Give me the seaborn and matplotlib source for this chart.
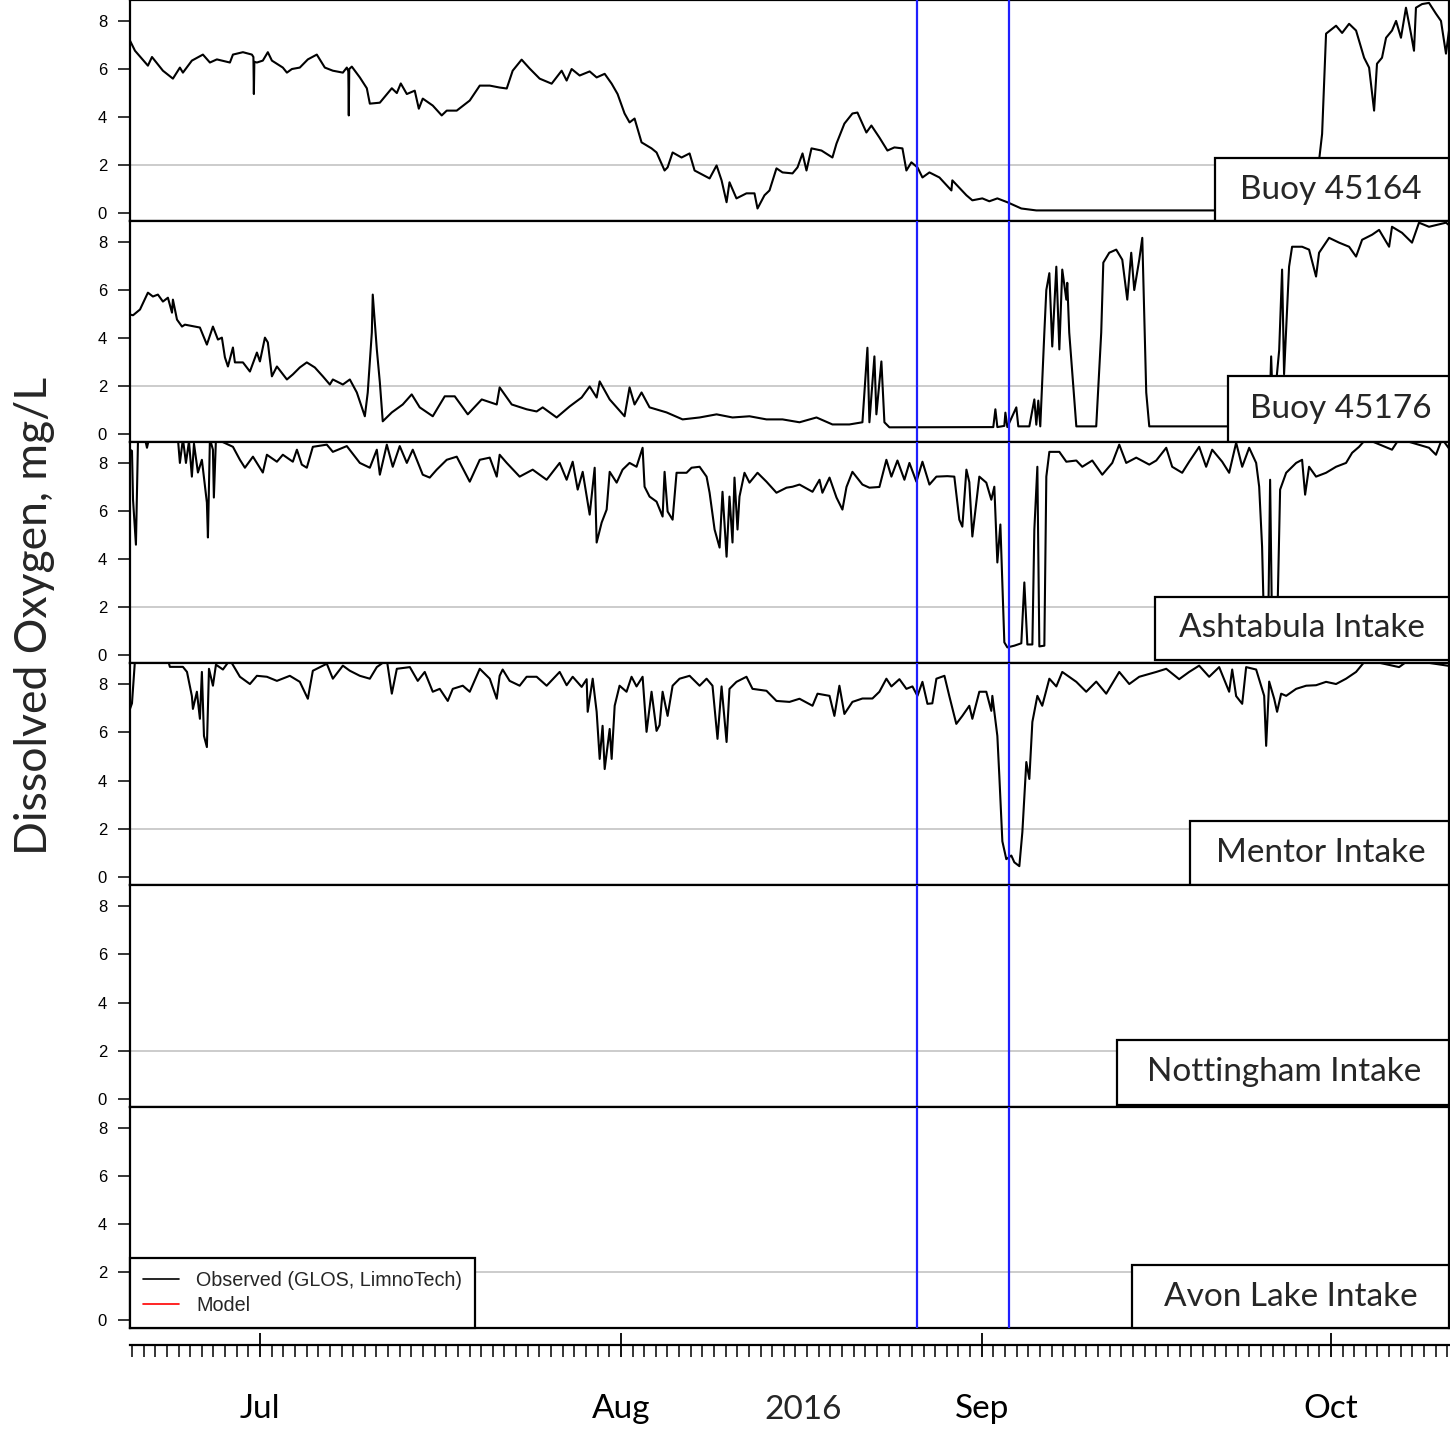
import numpy as np
import pandas as pd
import matplotlib
matplotlib.use("Agg")
import matplotlib.pyplot as plt
import matplotlib.dates as mdates
from matplotlib.lines import Line2D
from matplotlib.patches import Rectangle
import seaborn as sns

# ---------------- data (days since 2016-06-20, dissolved oxygen mg/L) ----------------
START = pd.Timestamp("2016-06-20")
x_range_days = [-0.17, 113.23]
event_days = [67.53, 75.43]          # blue vertical markers
year_label = "2016"
month_labels = ["Jul", "Aug", "Sep", "Oct"]
panel_names = ["Buoy 45164", "Buoy 45176", "Ashtabula Intake", "Mentor Intake",
               "Nottingham Intake", "Avon Lake Intake"]
legend_labels = ["Observed (GLOS, LimnoTech)", "Model"]
y_ticks = [0, 2, 4, 6, 8]

b45164_day = [-0.17, 0.26, 1.37, 1.72, 2.66, 3.52, 4.12, 4.38, 5.15, 6.10, 6.70, 7.30, 8.42, 8.68,
              9.54, 10.31, 10.44, 10.48, 10.52, 10.74, 11.25, 11.68, 12.03, 12.97, 13.32, 13.75,
              14.43, 15.12, 15.89, 16.58, 17.27, 18.13, 18.47, 18.60, 18.64, 18.68, 18.90, 19.59,
              20.19, 20.45, 21.31, 22.34, 22.77, 23.11, 23.63, 24.31, 24.66, 25.00, 25.86, 26.63,
              27.06, 27.92, 29.04, 29.90, 30.76, 31.61, 32.22, 32.73, 33.50, 34.19, 35.05, 36.08,
              36.94, 37.37, 37.80, 38.49, 39.35, 39.95, 40.64, 41.24, 41.75, 42.35, 42.78, 43.21,
              43.81, 44.67, 45.10, 45.79, 46.05, 46.48, 47.25, 47.94, 48.37, 49.66, 50.26, 50.69,
              51.12, 51.37, 51.97, 52.83, 53.52, 53.78, 54.38, 54.81, 55.41, 55.93, 56.79, 57.22,
              57.65, 57.99, 58.42, 59.28, 60.22, 60.57, 61.25, 61.94, 62.37, 63.14, 63.57, 64.26,
              64.95, 65.55, 66.24, 66.58, 67.01, 67.53, 67.96, 68.56, 69.42, 70.45, 70.53, 71.74,
              72.25, 73.11, 73.71, 74.40, 75.26, 76.46, 77.75, 101.89, 102.06, 102.32, 102.66,
              103.52, 104.04, 104.64, 105.24, 105.93, 106.36, 106.79, 107.04, 107.47, 107.82,
              108.33, 108.68, 109.10, 109.53, 109.96, 110.22, 110.39, 110.91, 111.51, 112.11,
              112.54, 112.97, 113.23]
b45164_do = [7.18, 6.76, 6.14, 6.5, 5.93, 5.6, 6.06, 5.85, 6.35, 6.6, 6.27, 6.4, 6.27, 6.6,
             6.7, 6.6, 6.5, 4.96, 6.3, 6.27, 6.35, 6.7, 6.35, 6.06, 5.85, 6.0,
             6.06, 6.4, 6.6, 6.06, 5.93, 5.85, 6.06, 5.9, 4.07, 6.0, 6.1, 5.65,
             5.2, 4.56, 4.6, 5.2, 5.0, 5.4, 4.96, 5.1, 4.35, 4.77, 4.48, 4.07,
             4.27, 4.27, 4.69, 5.31, 5.31, 5.23, 5.19, 5.93, 6.39, 6.02, 5.6, 5.39,
             5.93, 5.52, 6.0, 5.73, 5.9, 5.65, 5.8, 5.39, 4.96, 4.15, 3.78, 3.94,
             2.95, 2.7, 2.53, 1.78, 1.91, 2.53, 2.32, 2.49, 1.78, 1.45, 1.99, 1.37,
             0.46, 1.29, 0.62, 0.83, 0.83, 0.2, 0.75, 0.95, 1.87, 1.7, 1.66, 1.91,
             2.49, 1.78, 2.7, 2.61, 2.32, 2.9, 3.73, 4.15, 4.19, 3.36, 3.65, 3.15,
             2.61, 2.74, 2.7, 1.78, 2.12, 1.91, 1.49, 1.7, 1.49, 0.95, 1.37, 0.75,
             0.54, 0.62, 0.5, 0.62, 0.46, 0.2, 0.12, 0.12, 2.2, 3.3, 7.47,
             7.8, 7.5, 7.88, 7.6, 6.47, 6.06, 4.27, 6.22, 6.47, 7.3,
             7.6, 8.0, 7.3, 8.55, 7.47, 6.76, 8.55, 8.7, 8.75, 8.3,
             8.0, 6.64, 7.6]

b45176_day = [-0.17, 0.09, 0.69, 1.37, 1.80, 2.23, 2.66, 3.09, 3.44, 3.52, 3.87, 4.30, 4.55, 5.84,
              6.44, 6.96, 7.39, 7.73, 7.99, 8.25, 8.68, 8.85, 9.54, 10.14, 10.74, 11.00, 11.43,
              11.68, 12.03, 12.46, 13.32, 13.83, 14.43, 15.03, 15.72, 16.41, 17.01, 17.27, 18.13,
              18.73, 19.33, 20.02, 20.27, 20.62, 20.70, 21.05, 21.31, 21.56, 22.34, 23.28, 24.05,
              24.74, 25.86, 26.89, 27.75, 28.87, 30.07, 31.36, 31.61, 32.65, 33.93, 34.79, 35.31,
              36.51, 37.63, 38.66, 39.35, 39.95, 40.21, 41.07, 42.35, 42.78, 43.21, 43.81, 44.50,
              45.96, 47.34, 48.80, 50.26, 51.63, 53.09, 54.55, 55.93, 57.39, 58.85, 60.22, 61.68,
              62.80, 63.23, 63.40, 63.83, 64.00, 64.43, 64.69, 65.12, 74.05, 74.23, 74.40, 75.00,
              75.09, 75.26, 76.03, 76.20, 77.15, 77.58, 77.75, 77.92, 78.09, 78.44, 78.61, 78.87,
              79.12, 79.47, 79.73, 79.98, 80.33, 80.41, 80.58, 81.19, 82.90, 83.33, 83.51, 84.02,
              84.62, 85.14, 85.57, 85.91, 86.17, 86.60, 86.86, 87.20, 87.46, 97.34, 97.77, 97.94,
              98.11, 98.63, 98.88, 99.05, 99.48, 99.74, 100.60, 101.20, 101.80, 102.06, 102.92,
              103.78, 104.64, 105.24, 105.76, 106.62, 107.22, 108.08, 108.33, 109.19, 110.05,
              110.65, 111.51, 112.97, 113.23]
b45176_do = [4.98, 4.95, 5.19, 5.89, 5.73, 5.81, 5.52, 5.68, 5.06, 5.6, 4.77, 4.48, 4.56, 4.44,
             3.73, 4.48, 3.94, 4.02, 3.2, 2.82, 3.61, 2.99, 2.99, 2.61, 3.4, 3.03, 4.02,
             3.82, 2.41, 2.82, 2.28, 2.49, 2.78, 2.99, 2.78, 2.41, 2.07, 2.28, 2.07,
             2.28, 1.74, 0.75, 1.74, 4.23, 5.81, 3.53, 2.16, 0.54, 0.91, 1.24, 1.66,
             1.12, 0.75, 1.58, 1.58, 0.83, 1.45, 1.24, 1.95, 1.24, 1.04, 0.95, 1.12,
             0.7, 1.16, 1.53, 1.99, 1.53, 2.2, 1.45, 0.75, 1.95, 1.24, 1.74, 1.12,
             0.91, 0.62, 0.7, 0.83, 0.7, 0.75, 0.62, 0.62, 0.5, 0.7, 0.41, 0.41,
             0.5, 3.6, 0.5, 3.24, 0.83, 3.03, 0.5, 0.29, 0.3, 1.04, 0.3, 0.35,
             0.9, 0.3, 1.12, 0.33, 0.33, 1.45, 0.4, 1.4, 0.33, 4.23, 6.0, 6.7,
             3.65, 6.97, 3.53, 6.85, 5.6, 6.3, 4.23, 0.33, 0.33, 4.23, 7.14, 7.55,
             7.68, 7.26, 5.6, 7.55, 6.0, 7.26, 8.17, 1.74, 0.33, 0.33, 0.5, 3.24,
             0.8, 3.5, 6.85, 2.5, 6.97, 7.8, 7.8, 7.68, 6.56, 7.55, 8.17,
             7.97, 7.8, 7.39, 8.09, 8.3, 8.5, 7.8, 8.63, 8.38, 7.97,
             8.8, 8.63, 8.8, 8.7]

ashtabula_day = [-0.17, 0.00, 0.09, 0.34, 0.52, 1.12, 1.29, 1.46, 3.95, 4.12, 4.38, 4.64, 4.90,
                 5.15, 5.33, 5.67, 6.01, 6.44, 6.53, 6.70, 6.96, 7.04, 7.22, 8.68, 9.28, 9.71,
                 10.40, 11.25, 11.60, 12.46, 12.97, 13.83, 14.18, 14.60, 15.03, 15.55, 16.75,
                 17.27, 18.47, 19.59, 20.45, 21.05, 21.31, 21.91, 22.42, 23.02, 23.63, 24.14,
                 25.00, 25.60, 26.20, 27.06, 27.92, 29.04, 29.90, 30.76, 31.36, 31.61, 32.22,
                 33.33, 34.45, 35.65, 36.77, 37.37, 37.89, 38.32, 38.75, 39.35, 39.78, 39.95,
                 40.38, 40.81, 41.07, 41.67, 42.18, 42.78, 43.38, 43.90, 44.07, 44.50, 45.10,
                 45.62, 45.79, 46.05, 46.48, 46.82, 47.68, 48.11, 48.80, 49.40, 49.66, 50.09,
                 50.52, 50.77, 51.12, 51.37, 51.63, 51.80, 52.06, 52.23, 52.66, 53.09, 53.78,
                 54.55, 55.41, 56.27, 56.79, 57.39, 58.51, 59.11, 59.36, 59.97, 60.57, 61.08,
                 61.43, 61.94, 62.80, 63.40, 64.26, 64.86, 65.29, 65.81, 66.41, 66.84, 67.44,
                 67.96, 68.56, 69.16, 70.10, 70.70, 71.13, 71.39, 71.74, 71.99, 72.25, 72.85,
                 73.45, 73.88, 74.14, 74.40, 74.66, 75.00, 75.26, 75.86, 76.46, 76.72, 76.98,
                 77.41, 77.58, 77.84, 78.01, 78.44, 78.61, 78.87, 79.73, 80.33, 81.19, 81.70,
                 82.56, 83.42, 84.28, 84.88, 85.48, 86.34, 87.46, 88.06, 88.92, 89.43, 90.29,
                 90.89, 91.75, 92.35, 92.87, 93.73, 94.33, 94.93, 95.45, 96.05, 96.65, 96.91,
                 97.16, 97.34, 97.68, 97.85, 98.02, 98.45, 98.71, 99.23, 100.09, 100.60, 100.86,
                 101.20, 101.80, 102.66, 103.52, 104.38, 104.90, 105.50, 106.10, 108.33, 108.94,
                 111.51, 112.11, 112.63, 113.23]
ashtabula_do = [8.55, 8.5, 6.47, 4.6, 9.0, 9.0, 8.63, 9.0, 9.0, 8.0, 9.0, 8.0, 8.9,
                7.43, 8.8, 7.6, 8.13, 6.35, 4.9, 9.0, 8.55, 6.56, 9.0, 8.67, 8.13, 7.8,
                8.26, 7.6, 8.34, 8.05, 8.34, 8.05, 8.55, 7.93, 7.8, 8.67, 8.76,
                8.46, 8.7, 8.0, 7.8, 8.55, 7.51, 8.76, 7.84, 8.7, 8.0, 8.55,
                7.51, 7.39, 7.72, 8.13, 8.26, 7.22, 8.13, 8.22, 7.43, 8.34, 8.0,
                7.43, 7.72, 7.3, 8.0, 7.3, 8.05, 6.89, 7.63, 5.85, 7.8, 4.69,
                5.52, 6.06, 7.63, 7.18, 7.72, 8.0, 7.84, 8.63, 7.01, 6.6, 6.39,
                5.77, 7.63, 5.98, 5.64, 7.59, 7.59, 7.8, 7.84, 7.43, 6.76, 5.23,
                4.48, 6.8, 4.1, 6.6, 4.69, 7.39, 5.23, 6.6, 7.59, 7.18, 7.59,
                7.22, 6.76, 6.97, 7.01, 7.1, 6.8, 7.3, 6.76, 7.39, 6.56, 6.06,
                7.0, 7.63, 7.1, 6.97, 7.0, 8.13, 7.43, 8.1, 7.3, 8.0, 7.22,
                8.05, 7.1, 7.43, 7.45, 7.43, 5.64, 5.35, 7.72, 7.2, 4.94, 7.43,
                7.18, 6.47, 7.01, 3.86, 5.44, 0.54, 0.33, 0.4, 0.5, 3.03, 0.45,
                0.45, 5.23, 7.84, 0.37, 0.4, 7.43, 8.46, 8.46, 8.05, 8.1, 7.84,
                8.1, 7.51, 8.0, 8.76, 8.0, 8.22, 7.93, 8.1, 8.63, 7.84, 7.59,
                8.05, 8.67, 7.84, 8.55, 8.05, 7.59, 8.84, 7.84, 8.63, 8.0, 7.01,
                4.52, 1.0, 1.0, 7.3, 1.0, 1.0, 6.89, 7.59, 8.0, 8.13, 6.68,
                7.84, 7.43, 7.59, 7.84, 8.0, 8.42, 8.67, 9.0, 8.55, 9.0,
                8.63, 8.34, 9.0, 8.6]

mentor_day = [-0.17, 0.00, 0.26, 3.09, 3.26, 4.38, 4.73, 5.15, 5.24, 5.58, 5.84, 6.01, 6.19, 6.44,
              6.62, 6.96, 7.22, 7.82, 8.42, 9.28, 10.14, 10.74, 11.60, 12.46, 13.57, 14.43,
              15.12, 15.55, 16.75, 17.27, 18.13, 18.73, 19.59, 20.45, 21.05, 21.91, 22.34,
              22.77, 23.89, 24.57, 25.17, 25.86, 26.46, 27.15, 27.58, 28.44, 29.04, 29.90,
              30.76, 31.36, 31.61, 31.87, 32.47, 33.33, 33.93, 34.79, 35.65, 36.77, 37.37,
              37.89, 38.66, 39.09, 39.18, 39.61, 39.95, 40.21, 40.46, 40.64, 41.07, 41.24,
              41.50, 41.92, 42.52, 42.95, 43.38, 43.90, 44.24, 44.67, 45.10, 45.36, 45.62,
              46.05, 46.48, 47.08, 47.94, 48.80, 49.40, 49.91, 50.34, 50.69, 51.12, 51.37,
              51.97, 52.83, 53.35, 54.55, 55.41, 56.53, 57.39, 58.51, 58.94, 59.97, 60.39,
              60.82, 61.25, 61.94, 62.80, 63.66, 64.26, 64.86, 65.29, 65.98, 66.58, 67.10,
              67.53, 67.96, 68.39, 68.81, 69.16, 69.85, 70.27, 70.87, 71.39, 71.99, 72.25,
              72.85, 73.45, 73.88, 73.97, 74.40, 74.57, 74.83, 75.17, 75.60, 75.86, 76.29,
              76.55, 76.89, 77.15, 77.41, 77.84, 78.26, 78.87, 79.47, 79.98, 81.19, 82.04,
              82.90, 83.76, 84.88, 85.74, 86.60, 88.06, 88.92, 90.03, 90.89, 91.75, 92.61,
              93.47, 94.33, 94.59, 94.93, 95.45, 95.79, 96.65, 97.34, 97.51, 97.77, 98.20,
              98.45, 98.80, 99.23, 100.09, 100.95, 101.80, 102.66, 103.52, 104.38, 105.24,
              106.10, 108.94, 109.79, 113.23]
mentor_do = [6.97, 7.2, 9.0, 9.0, 8.71, 8.71, 8.5, 7.5, 6.97, 7.68, 6.56, 8.5, 5.85, 5.39,
             8.63, 7.93, 8.8, 8.6, 9.0, 8.3, 8.0, 8.34, 8.3, 8.13, 8.34, 8.09,
             7.39, 8.55, 8.84, 8.22, 8.76, 8.55, 8.34, 8.22, 8.7, 9.0, 7.6,
             8.63, 8.7, 8.13, 8.5, 7.68, 7.8, 7.3, 7.8, 7.93, 7.68, 8.63,
             8.22, 7.39, 8.34, 8.6, 8.13, 7.93, 8.3, 8.3, 7.93, 8.5, 7.95,
             8.3, 7.88, 8.2, 6.85, 8.22, 6.85, 4.9, 6.27, 4.48, 6.14, 4.9,
             7.1, 7.93, 7.68, 8.3, 7.9, 8.3, 6.02, 7.68, 6.06, 6.3, 7.68,
             6.68, 7.93, 8.22, 8.34, 7.93, 8.22, 7.93, 5.73, 7.9, 5.6, 7.8,
             8.09, 8.3, 7.8, 7.72, 7.3, 7.26, 7.39, 7.1, 7.6, 7.51, 6.68,
             7.93, 6.76, 7.26, 7.4, 7.4, 7.68, 8.22, 7.9, 8.2, 7.8, 7.9,
             7.51, 8.09, 7.18, 7.2, 8.22, 8.34, 7.5, 6.35, 6.68, 7.1, 6.56,
             7.68, 7.68, 6.89, 7.51, 5.85, 4.19, 1.49, 0.75, 0.9, 0.62, 0.46,
             1.87, 4.77, 4.07, 6.43, 7.51, 7.1, 8.22, 7.9, 8.5, 8.09, 7.68,
             8.1, 7.6, 8.5, 8.0, 8.3, 8.5, 8.63, 8.2, 8.5, 8.76, 8.3,
             8.7, 7.68, 8.6, 7.5, 7.18, 8.7, 8.6, 7.51, 5.44, 8.1, 7.39,
             6.85, 7.6, 7.51, 7.8, 7.93, 7.95, 8.09, 8.0, 8.22, 8.5,
             9.0, 8.7, 9.0, 8.75]

nottingham_day, nottingham_do = [], []
avonlake_day, avonlake_do = [], []

series = [(b45164_day, b45164_do), (b45176_day, b45176_do), (ashtabula_day, ashtabula_do),
          (mentor_day, mentor_do), (nottingham_day, nottingham_do), (avonlake_day, avonlake_do)]

# ---------------- layout ----------------
sns.set_style("white")
plt.rcParams['font.family'] = ['Liberation Sans', 'DejaVu Sans']
TITLE_FONT = ['Lato', 'DejaVu Sans']

W, H = 1450, 1432
fig = plt.figure(figsize=(W / 100, H / 100), dpi=100)
left_px, right_px = 130, 1449
tops = [0, 221, 442, 663, 885, 1107]
bots = [221, 442, 663, 885, 1107, 1328]
# label boxes: (x0 axes, y0 axes, height axes, text x, text y)
boxes = [(0.8226, 0.0, 0.285, 0.9106, 0.14),
         (0.8324, 0.0, 0.300, 0.9181, 0.149),
         (0.7770, 0.014, 0.285, 0.8886, 0.158),
         (0.8040, 0.0, 0.290, 0.9030, 0.144),
         (0.7480, 0.01, 0.294, 0.8749, 0.158),
         (0.7600, 0.0, 0.285, 0.8802, 0.14)]

def to_time(days):
    return START + pd.to_timedelta(np.asarray(days, dtype=float), unit="D")

xlim = (to_time([x_range_days[0]])[0], to_time([x_range_days[1]])[0])
axes = []
for i in range(6):
    ax = fig.add_axes([left_px / W, 1 - bots[i] / H, (right_px - left_px) / W, (bots[i] - tops[i]) / H])
    axes.append(ax)
    d, v = series[i]
    if len(d):
        df = pd.DataFrame({"time": to_time(d), "do": v})
        sns.lineplot(data=df, x="time", y="do", ax=ax, color="black", lw=1.5,
                     estimator=None, sort=False, legend=False, zorder=2)
    ax.set_xlim(*xlim)
    ax.set_ylim(-0.32, 8.87)
    ax.set_yticks(y_ticks)
    ax.set_xlabel("")
    ax.set_ylabel("")
    ax.tick_params(axis="y", left=True, direction="out", length=8.5, width=1.1, pad=8,
                   labelsize=12, colors="black")
    ax.tick_params(axis="x", bottom=False, labelbottom=False)
    for sp in ax.spines.values():
        sp.set_visible(True)
        sp.set_color("black")
        sp.set_linewidth(1.6)
    ax.axhline(2, color="#c8c8c8", lw=1.3, zorder=0)
    for ed in event_days:
        ax.axvline(to_time([ed])[0], color="#1f1fff", lw=1.6, zorder=3)
    bx0, by0, bh, tx, ty = boxes[i]
    ax.add_patch(Rectangle((bx0, by0), 1.0 - bx0, bh, transform=ax.transAxes,
                           facecolor="white", edgecolor="black", lw=1.6, zorder=5, clip_on=False))
    ax.text(tx, ty, panel_names[i], transform=ax.transAxes, ha="center", va="center",
            fontsize=24, family=TITLE_FONT, zorder=6)

# legend in bottom panel
handles = [Line2D([], [], color="black", lw=1.2), Line2D([], [], color="red", lw=1.2)]
leg = axes[-1].legend(handles, legend_labels, loc="lower left", bbox_to_anchor=(0, 0),
                      borderaxespad=0, frameon=True, fancybox=False, edgecolor="black",
                      fontsize=14.2, handlelength=1.85, handletextpad=0.85, borderpad=0.65,
                      labelspacing=0.3, framealpha=1)
leg.get_frame().set_linewidth(1.6)
leg.set_zorder(7)

# bottom time axis strip
axt = fig.add_axes([left_px / W, 1 - 1345 / H, (W - left_px) / W, 0.002])
axt.set_xlim(*xlim)
axt.set_yticks([])
for s in ["left", "right", "top"]:
    axt.spines[s].set_visible(False)
axt.spines["bottom"].set_linewidth(1.6)
axt.spines["bottom"].set_color("black")
axt.patch.set_alpha(0)
axt.xaxis.set_major_locator(mdates.MonthLocator())
axt.xaxis.set_minor_locator(mdates.DayLocator())
axt.xaxis.set_major_formatter(mdates.DateFormatter("%b"))
axt.tick_params(axis="x", which="both", bottom=True)
axt.tick_params(axis="x", which="major", direction="inout", length=17, width=1.3, pad=27,
                labelsize=24, colors="black")
axt.tick_params(axis="x", which="minor", direction="out", length=8.6, width=1.3)
for lab in axt.get_xticklabels():
    lab.set_family(TITLE_FONT)

fig.text(803 / W, 1 - 1410 / H, year_label, ha="center", va="center", fontsize=24, family=TITLE_FONT)
fig.text(35 / W, 1 - 616 / H, "Dissolved Oxygen, mg/L", rotation=90, ha="center", va="center",
         fontsize=32, family=TITLE_FONT)

fig.savefig("out.png", dpi=100)
